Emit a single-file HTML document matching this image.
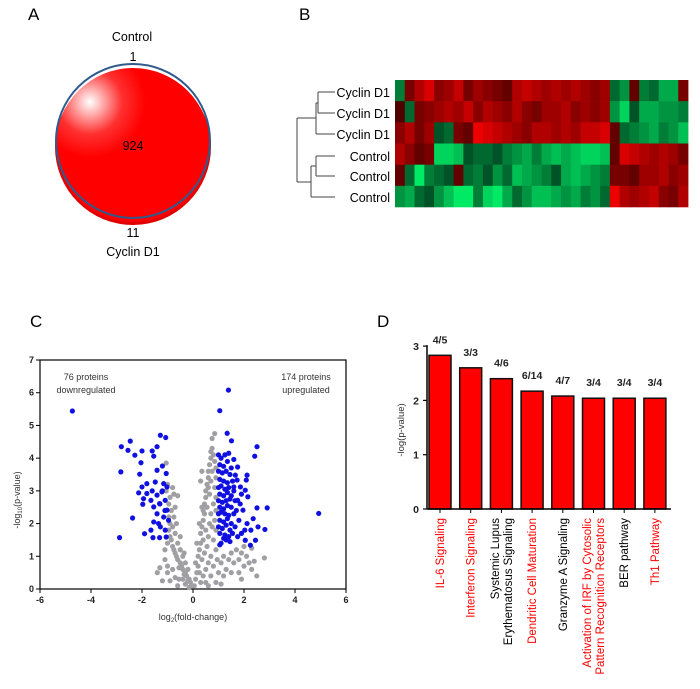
<!DOCTYPE html>
<html><head><meta charset="utf-8"><style>
html,body{margin:0;padding:0;background:#fff}
svg{display:block;font-family:"Liberation Sans",Arial,sans-serif}
</style></head><body>
<svg id="fig" width="700" height="689" viewBox="0 0 700 689">
<defs>
<radialGradient id="shine" cx="0.22" cy="0.22" r="0.6">
<stop offset="0" stop-color="#ffffff"/><stop offset="0.35" stop-color="#ff3030"/><stop offset="0.6" stop-color="#ff0000"/></radialGradient>
</defs>
<!-- Panel A -->
<g>
<text x="28" y="20" font-size="17">A</text>
<text x="132" y="41" font-size="12.5" text-anchor="middle">Control</text>
<text x="133" y="61" font-size="12.5" text-anchor="middle">1</text>
<circle cx="133" cy="147" r="78" fill="#e00000"/>
<circle cx="133" cy="145" r="77" fill="url(#shine)"/>
<circle cx="133" cy="141" r="77" fill="none" stroke="#2e5a8c" stroke-width="2"/>
<text x="133" y="150" font-size="12.5" text-anchor="middle">924</text>
<text x="133" y="237" font-size="12.5" text-anchor="middle">11</text>
<text x="133" y="256" font-size="12.5" text-anchor="middle">Cyclin D1</text>
</g>
<!-- Panel B -->
<g>
<text x="299" y="20" font-size="17">B</text>
<g id="dendro" stroke="#444" stroke-width="1" fill="none">
<path d="M318 92H335M318 113H335M318 92V113M316 103H318M316 134H335M316 103V134M297 118H316"/>
<path d="M316 156H335M316 176H335M316 156V176M311 166H316M311 197H335M311 166V197M297 182H311M297 118V182"/>
</g>
<g font-size="12.5" text-anchor="end">
<text x="390" y="97">Cyclin D1</text>
<text x="390" y="118">Cyclin D1</text>
<text x="390" y="139">Cyclin D1</text>
<text x="390" y="161">Control</text>
<text x="390" y="181">Control</text>
<text x="390" y="202">Control</text>
</g>
<g id="heat"></g>
</g>
<!-- Panel C -->
<g>
<text x="30" y="327" font-size="17">C</text>
<g id="volc"></g>
</g>
<!-- Panel D -->
<g>
<text x="377" y="327" font-size="17">D</text>
<g id="bars"></g>
</g>
</svg>
<script>
// ---------- Heatmap data ----------
const heatRow1=[-0.4,0.3,0.6,0.8,0.4,0.5,0.7,0.3,0.5,0.4,0.3,0.2,0.6,0.7,0.6,0.5,0.6,0.5,0.6,0.5,0.4,0.5,-0.3,-0.5,0.2,-0.4,-0.3,-0.6,-0.6,0.3];
const heatRow2=[0.1,-0.3,0.3,0.4,0.5,0.6,0.5,0.7,0.4,0.6,0.5,0.4,0.6,0.4,0.3,0.5,0.5,0.6,0.4,0.5,0.4,0.5,-0.5,-0.8,-0.2,-0.6,-0.6,-0.5,-0.5,-0.4];
const heatRow3=[0.4,0.6,0.3,0.5,-0.2,-0.3,0.3,0.2,0.9,0.8,0.7,0.6,0.5,0.4,0.6,0.6,0.5,0.6,0.5,0.7,0.7,0.8,0.2,-0.3,-0.4,-0.5,-0.6,-0.4,-0.5,-0.7];
const heatRow4=[0.6,0.4,0.2,0.3,-0.8,-0.8,-0.7,-0.2,-0.3,-0.3,-0.2,-0.4,-0.5,-0.6,-0.4,-0.6,-0.7,-0.6,-0.7,-0.8,-0.8,-0.7,0.2,0.8,0.7,0.6,0.5,0.6,0.5,0.3];
const heatRow5=[0.2,-0.3,-0.9,-0.4,-0.3,-0.2,0.2,-0.3,-0.4,-0.2,-0.5,-0.3,-0.7,-0.6,-0.5,-0.4,-0.2,-0.6,-0.7,-0.6,-0.5,-0.4,0.3,0.3,0.2,0.5,0.5,0.6,0.4,0.5];
const heatRow6=[-0.5,-0.6,-0.3,-0.2,-0.5,-0.7,-0.9,-0.9,-0.4,-0.8,-0.9,-0.6,-0.3,-0.5,-0.7,-0.7,-0.6,-0.5,-0.6,-0.4,-0.5,-0.3,0.9,0.6,0.5,0.6,0.7,0.4,0.3,0.6];
const heatRows=[heatRow1,heatRow2,heatRow3,heatRow4,heatRow5,heatRow6];

// ---------- Volcano data (log2 FC, -log10 p) ----------
const downX=[-4.73,-2.81,-2.46,-2.55,-2.28,-2.83,-2.88,-2.37,-2.0,-2.04,-2.09,-2.13,-2.0,-1.97,-1.9,-1.65,-1.57,-1.31,-1.05,-1.28,-1.07,-1.41,-1.6,-1.54,-1.2,-1.41,-1.05,-1.81,-1.48,-1.15,-1.65,-1.41,-1.22,-1.54,-1.31,-1.09,-1.41,-1.15,-1.54,-1.28,-1.09,-1.81,-1.94,-1.02,-1.02,-0.96,-1.2,-1.3,-1.1,-1.6,-1.35];
const downY=[5.44,4.35,4.52,4.24,4.09,3.58,1.57,2.17,4.22,3.86,3.51,2.94,3.12,2.59,1.69,1.8,1.57,1.57,1.59,4.7,4.63,4.35,4.22,4.06,3.76,3.63,3.53,3.22,3.27,3.22,2.71,2.87,2.97,2.51,2.61,2.71,2.3,2.2,2.05,1.9,1.8,2.92,2.76,3.12,2.41,2.1,3.0,2.6,2.4,3.0,2.0];
const upX=[1.39,1.05,1.34,1.51,2.51,2.42,4.93,2.91,2.82,2.51,2.36,2.12,2.09,2.05,2.15,1.86,1.75,1.6,1.66,1.73,1.6,1.75,1.96,2.12,2.03,2.27,2.05,2.25,2.45,2.55,
1.0,1.1,1.25,1.4,1.05,1.2,1.35,1.5,1.0,1.15,1.3,1.45,1.05,1.2,1.35,1.55,1.0,1.1,1.25,1.4,1.6,1.05,1.2,1.35,1.5,1.0,1.15,1.3,1.45,1.65,1.05,1.2,1.35,1.5,1.0,1.1,1.25,1.4,1.6,1.05,1.2,1.35,1.5,1.0,1.15,1.3,1.45,1.65,1.05,1.25,1.4,1.55,1.1,1.3,1.45,1.05,1.2,1.8,1.85,1.9,1.7,1.75,1.9];
const upY=[6.08,5.45,4.76,4.53,4.35,4.06,2.31,2.48,1.82,2.48,2.15,3.48,3.33,3.02,2.82,3.12,3.73,3.96,3.48,3.33,3.12,2.71,2.41,2.0,1.8,1.8,1.49,1.34,1.49,1.9,
4.1,4.0,4.1,4.15,3.8,3.75,3.9,3.7,3.6,3.55,3.6,3.5,3.35,3.3,3.25,3.3,3.1,3.15,3.05,3.1,3.0,2.9,2.85,2.95,2.85,2.7,2.65,2.7,2.75,2.7,2.5,2.45,2.55,2.5,2.3,2.35,2.3,2.25,2.3,2.1,2.05,2.15,2.0,1.9,1.85,1.95,1.8,1.9,1.7,1.65,1.6,1.7,1.4,1.5,1.45,1.35,1.55,2.1,2.6,2.9,2.4,1.6,1.7];
const grayX=[-0.05,-0.1,-0.15,-0.2,-0.25,-0.3,-0.35,-0.4,-0.45,-0.5,-0.55,-0.6,-0.65,-0.7,-0.75,-0.8,-0.85,-0.9,-0.95,-0.9,-0.95,-0.85,-0.95,-0.9,-0.75,-0.8,-1.0,-1.05,-0.6,-0.7,-0.75,-0.8,-0.7,-0.6,-0.5,-0.4,-0.3,-0.2,-0.55,-0.7,-0.8,-1.0,-1.1,-1.3,-1.4,-1.2,-0.9,-1.0,-1.1,-1.0,-1.05,-0.65,-0.5,-0.35,-0.4,-0.6,-0.3,-0.15,
0.05,0.1,0.15,0.2,0.2,0.25,0.3,0.3,0.35,0.4,0.4,0.45,0.5,0.5,0.55,0.6,0.6,0.65,0.7,0.7,0.75,0.75,0.85,0.8,0.85,0.9,0.9,0.85,0.9,0.8,0.9,0.85,0.9,0.8,0.9,0.7,0.6,0.5,0.4,0.3,0.65,0.7,0.75,0.6,0.55,0.45,0.35,0.25,0.55,0.65,0.5,0.4,0.7,0.75,0.6,0.45,0.35,0.3,0.35,0.25,0.15,0.1,0.5,0.7,0.8,0.95,0.6,1.0,1.1,1.2,1.3,1.4,1.5,1.6,1.7,1.8,1.9,2.0,2.1,2.2,2.3,2.4,2.5,2.8,2.3,1.2,1.5,1.8,0.9,1.1,2.0,1.9];
const grayY=[0.1,0.2,0.3,0.25,0.4,0.5,0.45,0.6,0.7,0.8,0.65,0.9,1.0,1.1,1.2,1.3,1.5,1.6,1.8,2.0,2.2,2.4,2.6,2.8,2.9,3.1,3.2,3.0,2.85,2.5,2.2,1.9,1.7,1.4,1.2,1.0,0.8,0.6,0.3,0.35,0.6,0.7,0.9,0.65,0.5,0.25,0.25,0.5,1.2,1.4,3.85,2.0,1.6,1.1,0.3,0.1,0.15,0.05,
0.1,0.3,0.5,0.7,1.0,1.2,1.4,1.7,1.9,2.1,2.4,2.6,2.8,3.0,3.2,3.4,3.6,3.8,4.0,4.2,4.3,4.6,4.75,4.1,3.9,3.7,3.4,3.1,2.8,2.6,2.4,2.1,1.8,1.5,1.2,1.0,0.8,0.6,0.4,0.2,2.9,2.3,1.9,1.6,1.3,1.1,0.9,0.5,2.5,2.0,1.8,1.5,3.3,3.6,3.1,2.3,2.5,3.3,3.6,2.0,1.4,0.8,0.2,0.4,0.7,0.9,0.1,0.5,0.8,1.0,0.6,0.9,1.1,0.8,1.2,0.9,1.1,0.7,1.0,0.8,0.6,0.85,0.4,0.95,1.25,0.4,0.5,0.5,0.2,0.15,1.3,0.3];
const volcXTicks=[-6,-4,-2,0,2,4,6];
const volcYTicks=[0,1,2,3,4,5,6,7];

// ---------- Bar data ----------
const pathways=[["IL-6 Signaling"],["Interferon Signaling"],["Systemic Lupus","Erythematosus Signaling"],["Dendritic Cell Maturation"],["Granzyme A Signaling"],["Activation of IRF by Cytosolic","Pattern Recognition Receptors"],["BER pathway"],["Th1 Pathway"]];
const pathwayRed=[true,true,false,true,false,true,false,true];
const pathwayValues=[2.83,2.6,2.4,2.17,2.08,2.04,2.04,2.04];
const pathwayRatios=["4/5","3/3","4/6","6/14","4/7","3/4","3/4","3/4"];
const barYTicks=[0,1,2,3];

const NS="http://www.w3.org/2000/svg";
function mk(tag,attrs,parent,text){const e=document.createElementNS(NS,tag);for(const k in attrs)e.setAttribute(k,attrs[k]);if(text!==undefined)e.textContent=text;parent.appendChild(e);return e;}

// Heatmap
(function(){
const g=document.getElementById('heat');
const x0=395,x1=688,y0=80,y1=207;
const rh=(y1-y0)/heatRows.length;
heatRows.forEach((row,r)=>{
const cw=(x1-x0)/row.length;
row.forEach((v,c)=>{
const col=v>=0?`rgb(${Math.round(60+195*v)},0,0)`:`rgb(0,${Math.round(40+215*(-v))},${Math.round(20+90*(-v))})`;
const rect=mk('rect',{x:(x0+c*cw).toFixed(2),y:(y0+r*rh).toFixed(2),width:(cw+0.4).toFixed(2),height:(rh+0.3).toFixed(2),fill:col},g);


});
});
})();

// Volcano
(function(){
const g=document.getElementById('volc');
const L=40,R=346,T=360,B=589;
const sx=v=>L+(v+6)/12*(R-L);
const sy=v=>B-v/7*(B-T);
const frame=mk('rect',{x:L,y:T,width:R-L,height:B-T,fill:'none',stroke:'#000','stroke-width':1.2},g);


volcXTicks.forEach(t=>{
mk('line',{x1:sx(t),x2:sx(t),y1:B,y2:B+4,stroke:'#000'},g);
const tx=mk('text',{x:sx(t),y:B+14,'font-size':9,'font-weight':'bold','text-anchor':'middle',fill:'#222'},g,String(t));


});
volcYTicks.forEach(t=>{
mk('line',{x1:L-4,x2:L,y1:sy(t),y2:sy(t),stroke:'#000'},g);
const ty=mk('text',{x:L-6,y:sy(t)+3,'font-size':9,'font-weight':'bold','text-anchor':'end',fill:'#222'},g,String(t));


});
grayX.forEach((x,i)=>{const c=mk('circle',{cx:sx(x),cy:sy(grayY[i]),r:2.6,fill:'#a0a0a4'},g);

});
downX.forEach((x,i)=>{const c=mk('circle',{cx:sx(x),cy:sy(downY[i]),r:2.6,fill:'#1010e0'},g);

});
upX.forEach((x,i)=>{const c=mk('circle',{cx:sx(x),cy:sy(upY[i]),r:2.6,fill:'#1010e0'},g);

});
const a1=mk('text',{x:86,y:380,'font-size':9,'text-anchor':'middle',fill:'#333'},g,'76 proteins');


mk('text',{x:86,y:393,'font-size':9,'text-anchor':'middle',fill:'#333'},g,'downregulated');
const a2=mk('text',{x:306,y:380,'font-size':9,'text-anchor':'middle',fill:'#333'},g,'174 proteins');


mk('text',{x:306,y:393,'font-size':9,'text-anchor':'middle',fill:'#333'},g,'upregulated');
const xt=mk('text',{x:193,y:620,'font-size':9,'text-anchor':'middle',fill:'#333'},g);
xt.innerHTML='log<tspan font-size="6" dy="2">2</tspan><tspan dy="-2">(fold-change)</tspan>';


const yt=mk('text',{x:0,y:0,'font-size':9,'text-anchor':'middle',fill:'#333',transform:'translate(20,500) rotate(-90)'},g);
yt.innerHTML='-log<tspan font-size="6" dy="2">10</tspan><tspan dy="-2">(p-value)</tspan>';


})();

// Bars
(function(){
const g=document.getElementById('bars');
const L=427,R=671,B=509,pxPer=54.3;
const sy=v=>B-v*pxPer;
const step=30.7,first=440,bw=22;
pathwayValues.forEach((v,i)=>{
const cx=first+i*step;
const r=mk('rect',{x:cx-bw/2,y:sy(v),width:bw,height:B-sy(v),fill:'#ff0000',stroke:'#111','stroke-width':1.5},g);


const t=mk('text',{x:cx,y:sy(v)-12,'font-size':10.5,'font-weight':'bold','text-anchor':'middle',fill:'#222'},g,pathwayRatios[i]);


mk('line',{x1:cx,x2:cx,y1:B,y2:B+4,stroke:'#000'},g);
const lines=pathways[i];
lines.forEach((ln,j)=>{
const off=(j-(lines.length-1)/2)*13;
const lt=mk('text',{x:0,y:0,'font-size':11.5,'text-anchor':'end',fill:pathwayRed[i]?'#ff0000':'#000',transform:`translate(${cx+4+off},518) rotate(-90)`},g,ln);


});
});
mk('line',{x1:L,x2:R,y1:B,y2:B,stroke:'#000','stroke-width':1.5},g);
mk('line',{x1:L,x2:L,y1:B,y2:sy(3)-1,stroke:'#000','stroke-width':1.5},g);
barYTicks.forEach(t=>{
mk('line',{x1:L-4,x2:L,y1:sy(t),y2:sy(t),stroke:'#000','stroke-width':1.2},g);
const ty=mk('text',{x:L-8,y:sy(t)+4,'font-size':10.5,'font-weight':'bold','text-anchor':'end',fill:'#222'},g,String(t));


});
const yt=mk('text',{x:0,y:0,'font-size':9.5,'text-anchor':'middle',fill:'#333',transform:'translate(404,430) rotate(-90)'},g,'-log(p-value)');


})();
</script>
</body></html>
